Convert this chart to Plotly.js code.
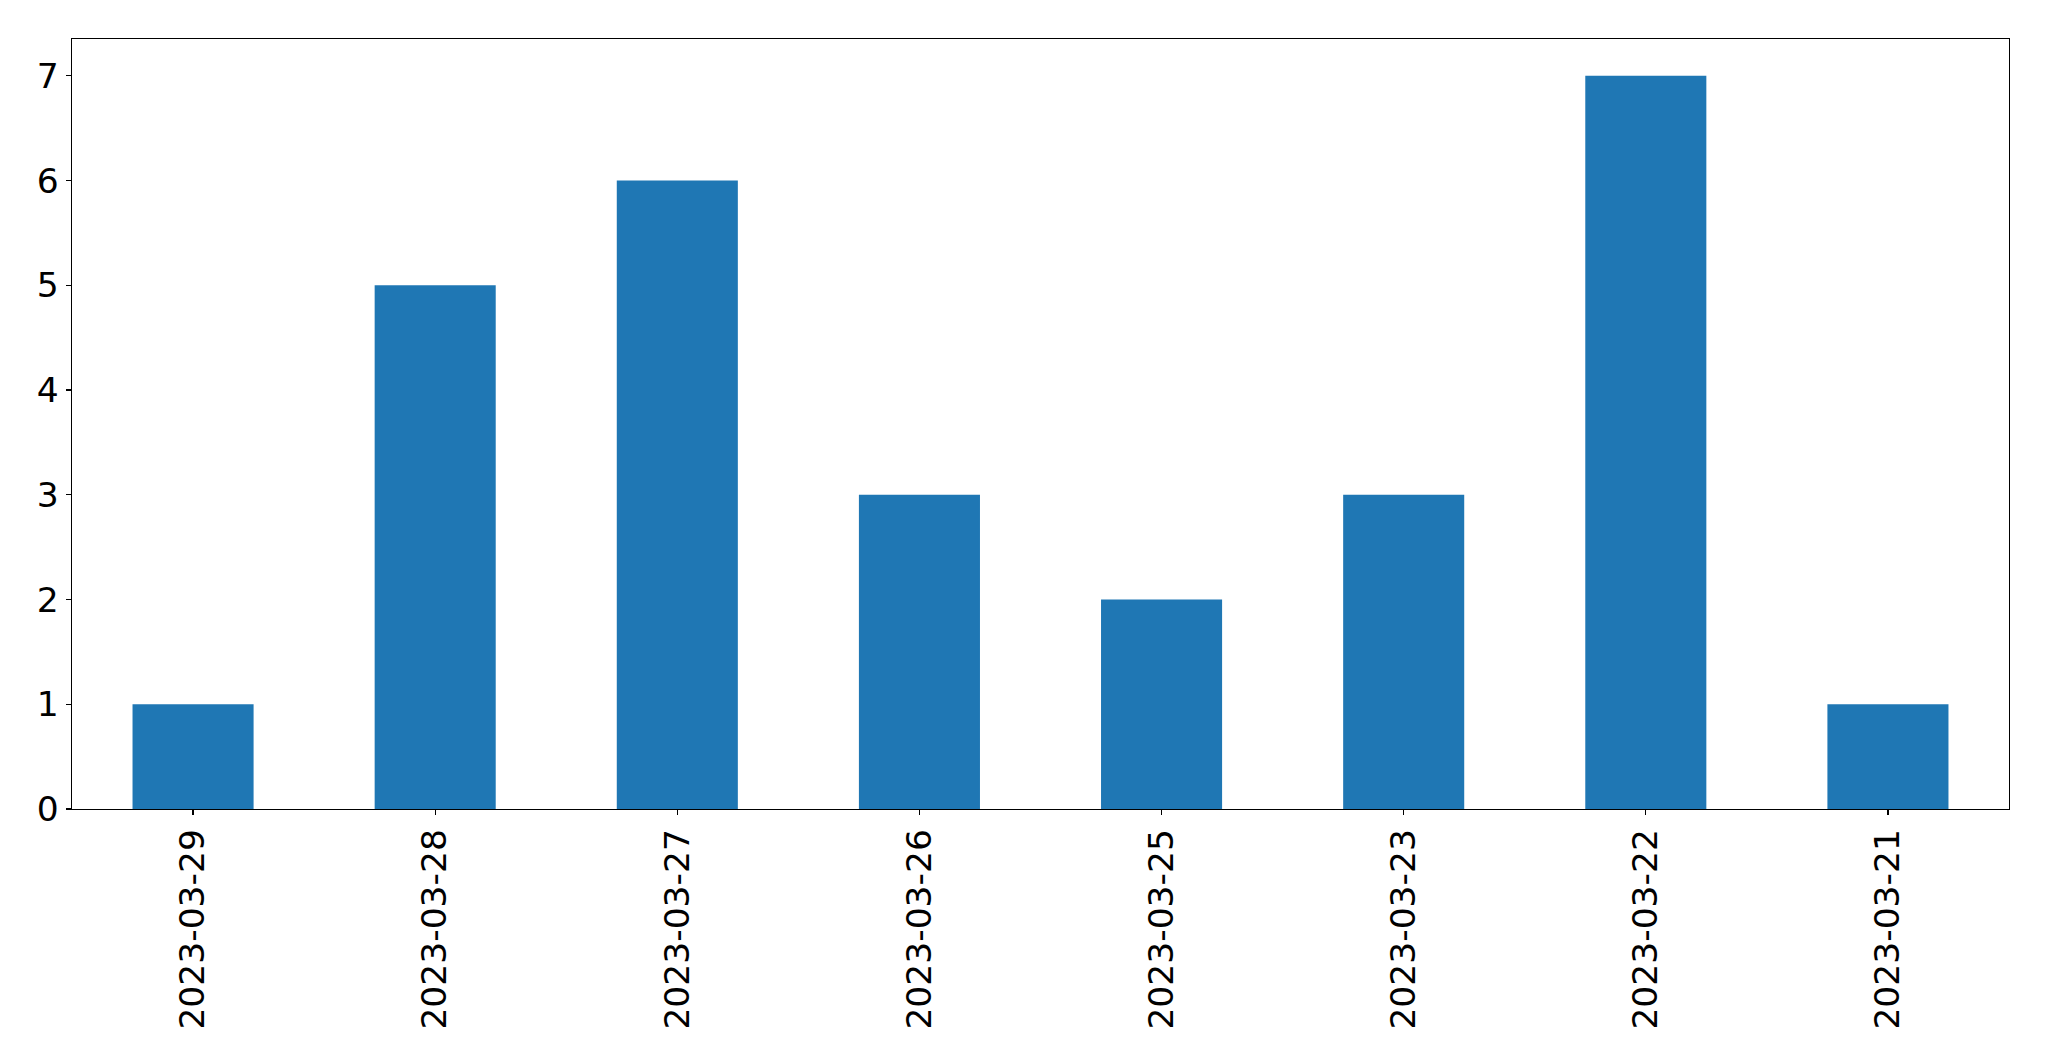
<!DOCTYPE html>
<html>
<head>
<meta charset="utf-8">
<script src="https://cdn.plot.ly/plotly-3.0.1.min.js"></script>
<style>html,body{margin:0;padding:0;background:#fff;}#chart{width:2049px;height:1061px;}</style>
</head>
<body>
<div id="chart"></div>
<script>
const dates = ["2023-03-29","2023-03-28","2023-03-27","2023-03-26","2023-03-25","2023-03-23","2023-03-22","2023-03-21"];
const counts = [1,5,6,3,2,3,7,1];
const yTicks = [0,1,2,3,4,5,6,7];

const figW = 2049, figH = 1061;
const plotLeft = 72.3, plotRight = 2009.3, plotTop = 39.3, plotBottom = 809;
const fontSize = 34.5;

const trace = {
  type: 'bar',
  x: dates.map((d,i)=>i),
  y: counts,
  marker: {color: '#1f77b4', line: {width: 0}},
  width: 0.5,
  hoverinfo: 'x+y'
};

const layout = {
  width: figW, height: figH,
  paper_bgcolor: '#ffffff',
  plot_bgcolor: '#ffffff',
  showlegend: false,
  margin: {l: plotLeft, r: figW - plotRight, t: plotTop, b: figH - plotBottom, pad: 0},
  font: {family: 'DejaVu Sans, sans-serif', size: fontSize, color: '#000'},
  xaxis: {
    type: 'linear',
    range: [-0.5, 7.5],
    tickmode: 'array',
    tickvals: dates.map((d,i)=>i),
    ticktext: dates,
    tickangle: -90,
    ticks: 'outside', ticklen: 5, tickwidth: 1.3, tickcolor: '#000',
    showline: true, linecolor: '#000', linewidth: 1.3, mirror: true,
    showgrid: false, zeroline: false,
    tickfont: {family: 'DejaVu Sans, sans-serif', size: fontSize, color: '#000'}
  },
  yaxis: {
    range: [0, 7.35],
    tickmode: 'array',
    tickvals: yTicks,
    ticktext: yTicks.map(String),
    ticks: 'outside', ticklen: 5, tickwidth: 1.3, tickcolor: '#000',
    showline: true, linecolor: '#000', linewidth: 1.3, mirror: true,
    showgrid: false, zeroline: false,
    tickfont: {family: 'DejaVu Sans, sans-serif', size: fontSize, color: '#000'}
  }
};

Plotly.newPlot('chart', [trace], layout, {displayModeBar: false, staticPlot: true});
</script>
</body>
</html>
